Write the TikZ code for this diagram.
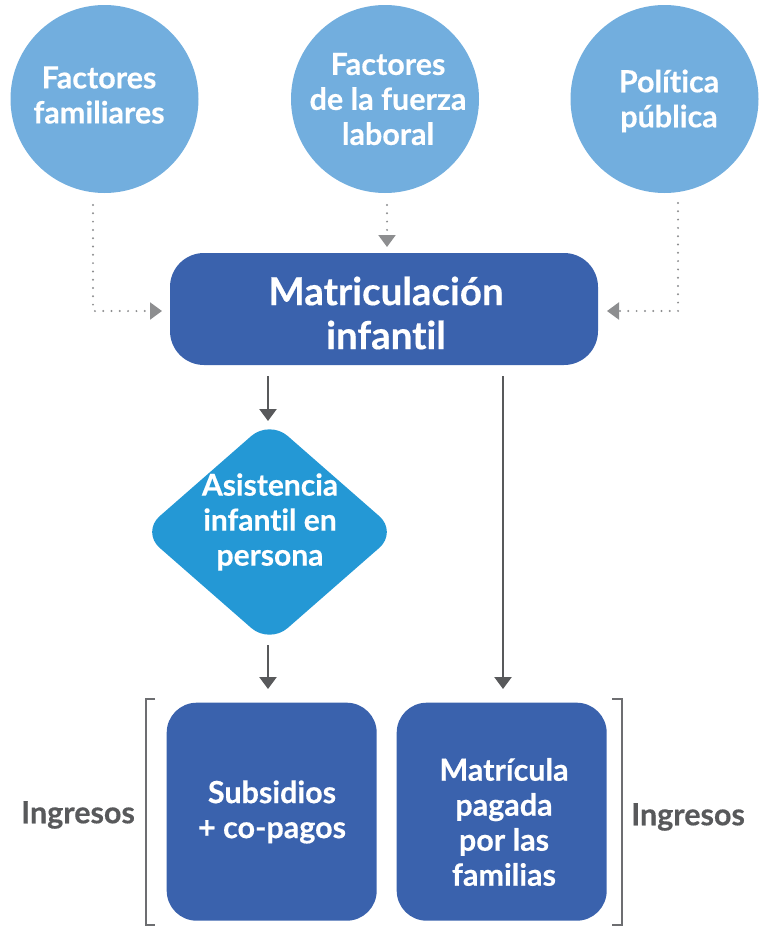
\documentclass[tikz,border=0pt]{standalone}
\usepackage{fontspec}
\setmainfont{Lato}[Ligatures=NoCommon,BoldFeatures={FakeBold=0.4}]
\usetikzlibrary{arrows.meta,shapes.geometric}
\definecolor{circblue}{HTML}{72AEDE}
\definecolor{mainblue}{HTML}{3A62AD}
\definecolor{diablue}{HTML}{2498D5}
\definecolor{arrgray}{HTML}{58595B}
\definecolor{dotgray}{HTML}{8D8E90}
\definecolor{brgray}{HTML}{6D6E71}
\begin{document}
\begin{tikzpicture}[x=1pt,y=-1pt,
  circ/.style={circle,fill=circblue,minimum size=188pt,inner sep=0pt},
  wtext/.style={text=white,align=center,inner sep=0pt},
  ctext/.style={wtext,font=\fontsize{30.5}{35}\selectfont\bfseries},
  mainbox/.style={rectangle,rounded corners=34pt,fill=mainblue,minimum width=428pt,minimum height=112pt,inner sep=0pt},
  mtext/.style={wtext,font=\fontsize{38.5}{44}\selectfont\bfseries},
  diabox/.style={diamond,fill=diablue,minimum width=256pt,minimum height=224pt,inner sep=0pt,rounded corners=24pt},
  botbox/.style={rectangle,rounded corners=30pt,fill=mainblue,minimum width=210pt,minimum height=218pt,inner sep=0pt},
  gtext/.style={text=arrgray,inner sep=0pt,font=\fontsize{30.5}{35}\selectfont\bfseries},
  solidarr/.style={draw=arrgray,line width=2.5pt,-{Triangle[width=17pt,length=12pt]}},
  dotarr/.style={draw=dotgray,line width=2.2pt,line cap=round,dash pattern=on 0pt off 8.3pt,-{Triangle[width=17pt,length=12pt,fill=dotgray]}},
  brack/.style={draw=brgray,line width=2pt}
]
\path[use as bounding box] (0,0) rectangle (765,926);

% circles
\node[circ] (c1) at (104.5,99) {};
\node[circ] (c2) at (385,99) {};
\node[circ] (c3) at (664.5,99) {};
\node[ctext] (t1) at (99,95) {Factores\\familiares};
\node[ctext] (t2) at (388,99) {Factores\\de la fuerza\\laboral};
\node[ctext] (t3) at (669,101) {Política\\pública};

% main box
\node[mainbox] (m) at (384,309) {};
\node[mtext] (mt) at (386,313) {Matriculación\\infantil};

% diamond
\node[diabox] (d) at (269.5,532) {};
\node[ctext,font=\fontsize{30}{35}\selectfont\bfseries] (dt) at (270,522) {Asistencia\\infantil en\\persona};

% bottom boxes
\node[botbox] (b1) at (271.7,811.7) {};
\node[botbox] (b2) at (501.7,811.7) {};
\node[ctext] (bt1) at (272,812) {Subsidios\\+ co-pagos};
\node[ctext] (bt2) at (504,822) {Matrícula\\pagada\\por las\\familias};

% Ingresos labels
\node[gtext] (i1) at (78,815) {Ingresos};
\node[gtext] (i2) at (688,817) {Ingresos};

% brackets
\coordinate (bl1) at (155,699);
\coordinate (bl2) at (146,699);
\coordinate (bl3) at (146,925);
\coordinate (bl4) at (155,925);
\draw[brack] (bl1) -- (bl2) -- (bl3) -- (bl4);
\coordinate (br1) at (612,699);
\coordinate (br2) at (622,699);
\coordinate (br3) at (622,925);
\coordinate (br4) at (612,925);
\draw[brack] (br1) -- (br2) -- (br3) -- (br4);

% dotted arrows
\coordinate (p1s) at (93,205);
\coordinate (p1e) at (162,311);
\coordinate (p2s) at (387,205);
\coordinate (p2e) at (387,247);
\coordinate (p3s) at (678,203);
\coordinate (p3e) at (607,311);
\draw[dotarr] (p1s) |- (p1e);
\draw[dotarr] (p2s) -- (p2e);
\draw[dotarr] (p3s) |- (p3e);

% solid arrows
\coordinate (a1s) at (268,376);
\coordinate (a1e) at (268,421);
\coordinate (a2s) at (268,645);
\coordinate (a2e) at (268,689);
\coordinate (a3s) at (503,376);
\coordinate (a3e) at (503,689);
\draw[solidarr] (a1s) -- (a1e);
\draw[solidarr] (a2s) -- (a2e);
\draw[solidarr] (a3s) -- (a3e);
\end{tikzpicture}
\end{document}
